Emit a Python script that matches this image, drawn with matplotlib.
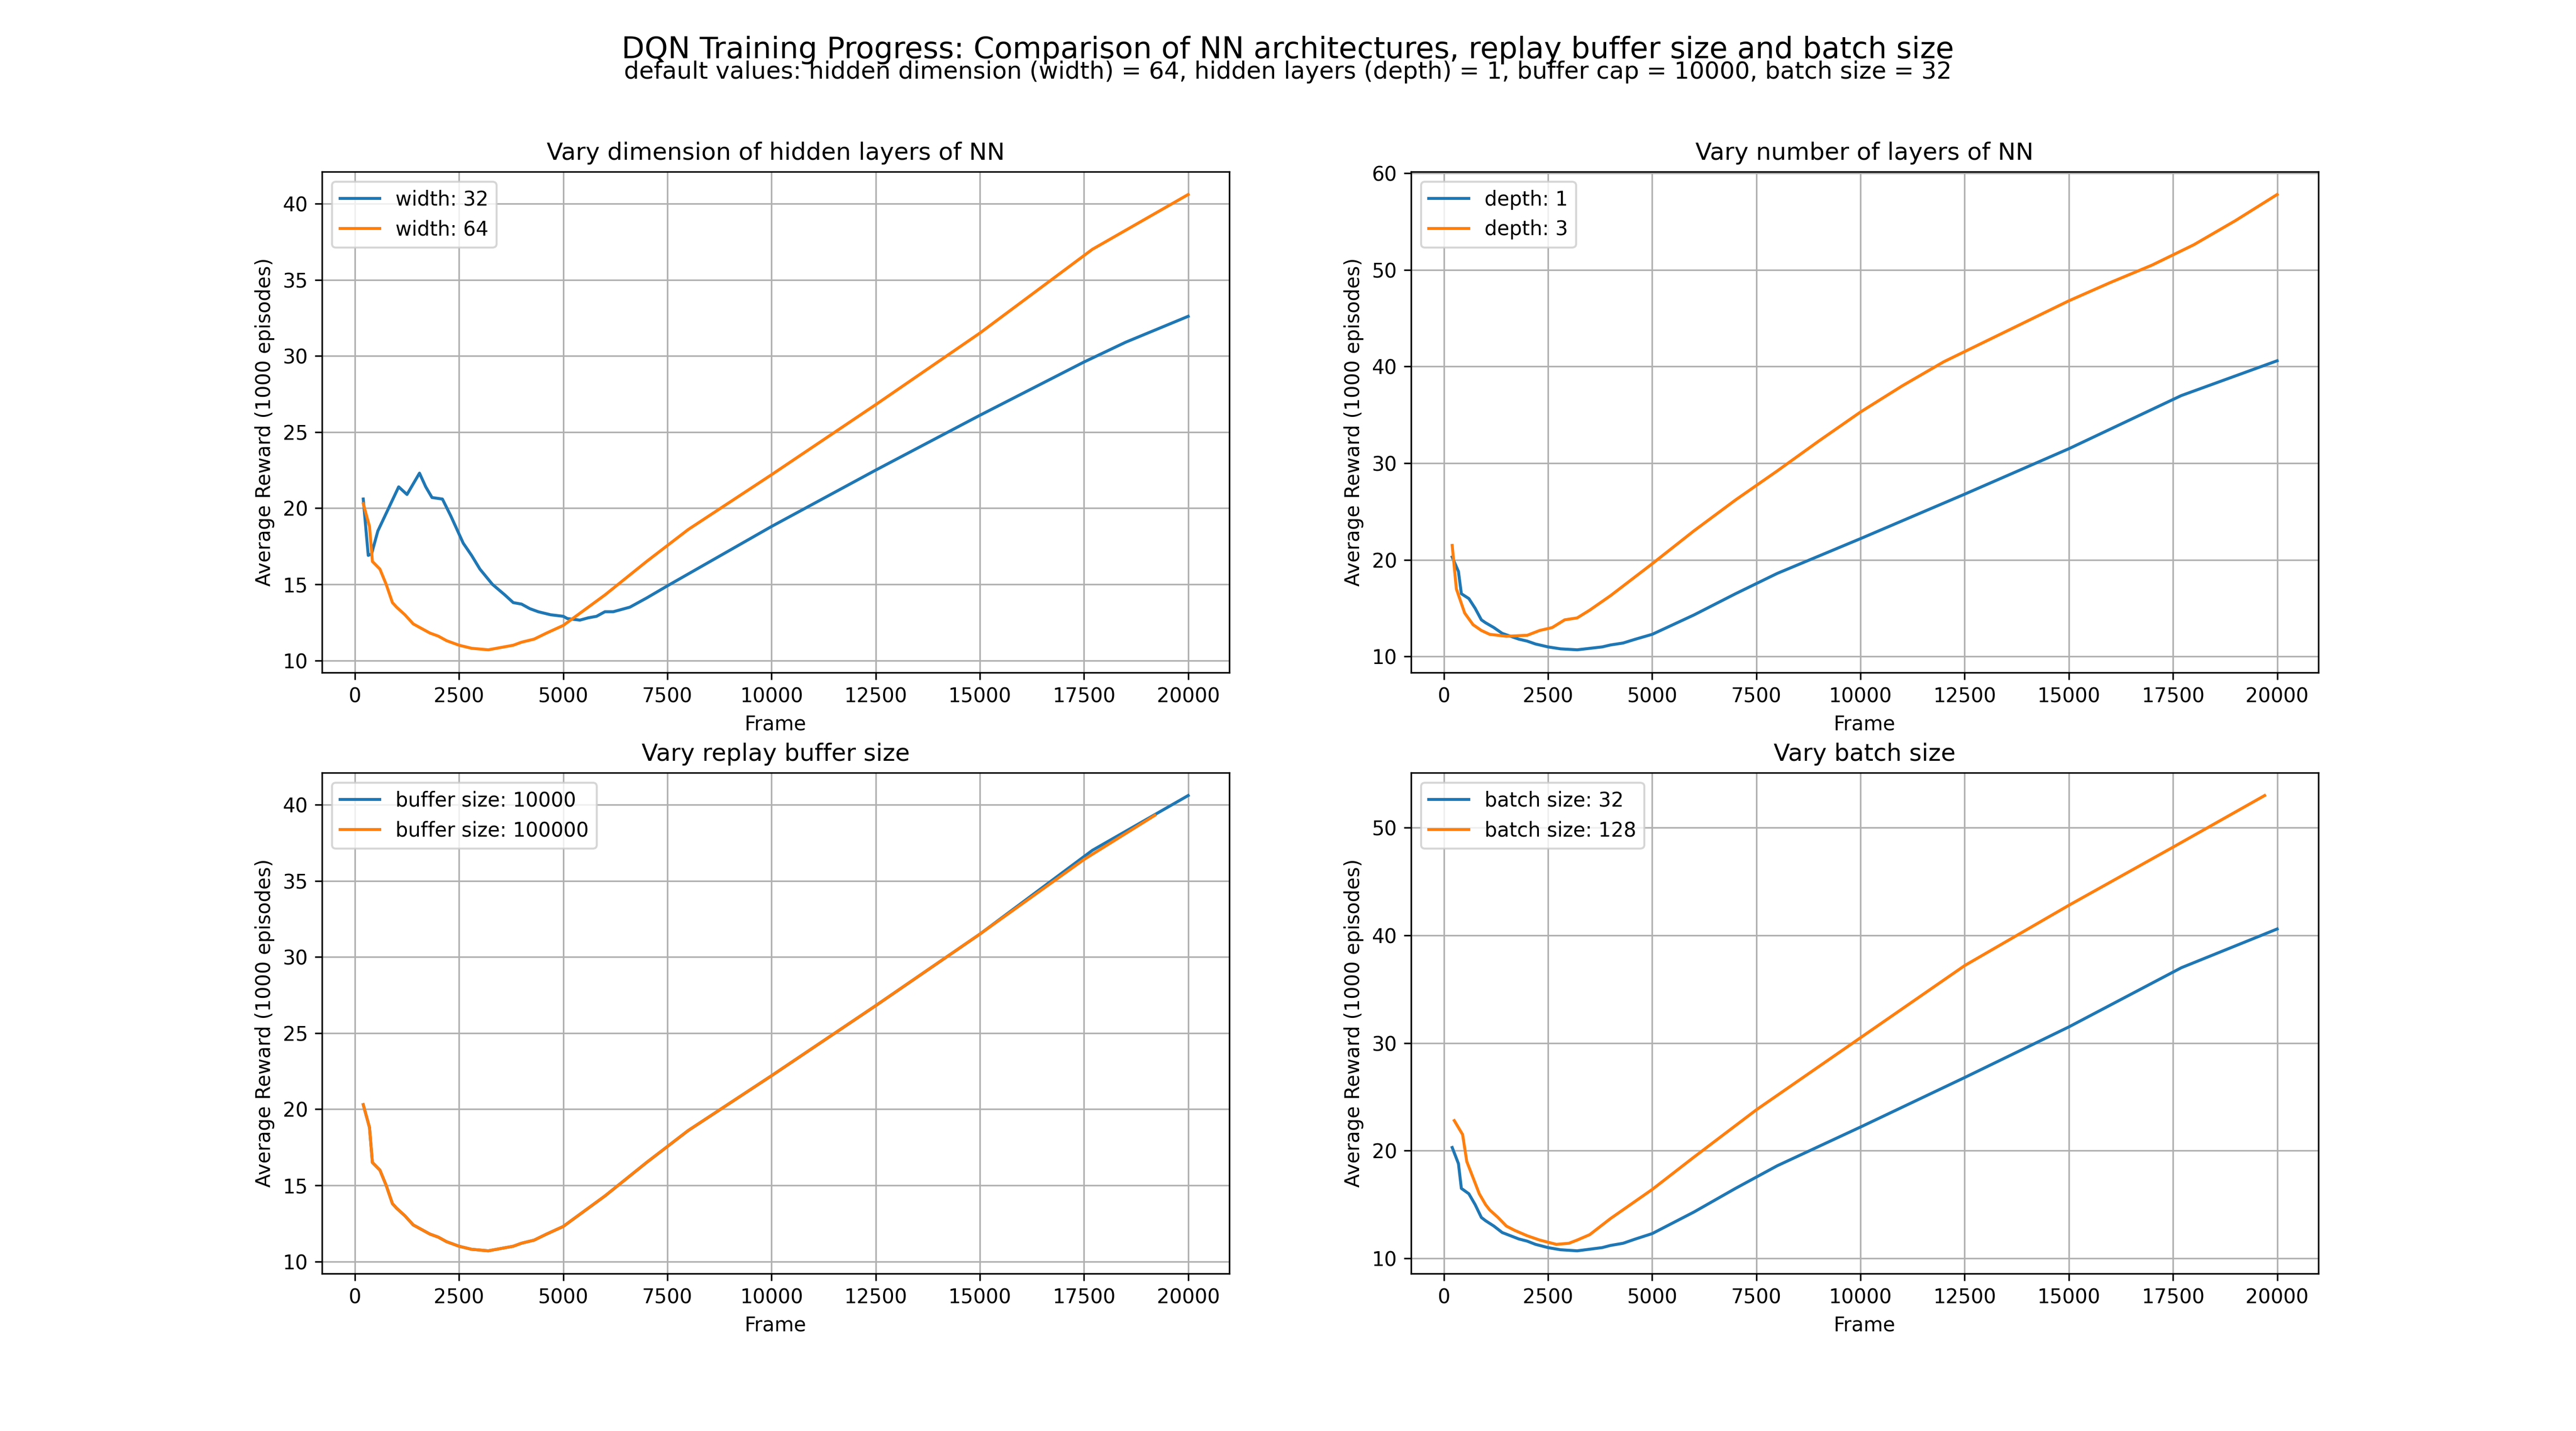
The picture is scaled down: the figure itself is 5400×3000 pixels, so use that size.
import matplotlib
matplotlib.use("Agg")
import matplotlib.pyplot as plt

# baseline run: width 64, depth 1, buffer 10000, batch 32
base_x = [200, 350, 420, 600, 750, 900, 1000, 1200, 1400, 1600, 1800, 2000, 2200, 2500, 2800,
          3200, 3500, 3800, 4000, 4300, 4600, 5000, 5500, 6000, 7000, 8000, 10000, 12500, 15000,
          17700, 20000]
base_y = [20.3, 18.8, 16.5, 16.0, 15.0, 13.8, 13.5, 13.0, 12.4, 12.1, 11.8, 11.6, 11.3, 11.0, 10.8,
          10.7, 10.85, 11.0, 11.2, 11.4, 11.8, 12.3, 13.3, 14.3, 16.5, 18.6, 22.2, 26.8, 31.5,
          37.0, 40.6]

width32_x = [200, 320, 400, 550, 1050, 1250, 1550, 1700, 1850, 2100, 2300, 2600, 2800, 3000, 3300,
             3600, 3800, 4000, 4200, 4400, 4700, 5000, 5100, 5400, 5600, 5800, 6000, 6200, 6600,
             7000, 7500, 10000, 12500, 15000, 17500, 18500, 20000]
width32_y = [20.6, 16.9, 17.0, 18.5, 21.4, 20.9, 22.3, 21.4, 20.7, 20.6, 19.5, 17.7, 16.9, 16.0, 15.0,
             14.3, 13.8, 13.7, 13.4, 13.2, 13.0, 12.9, 12.75, 12.65, 12.8, 12.9, 13.2, 13.2, 13.5,
             14.1, 14.9, 18.8, 22.5, 26.1, 29.6, 30.9, 32.6]

depth3_x = [200, 300, 500, 700, 900, 1100, 1500, 2000, 2300, 2600, 2900, 3200, 3500, 4000, 5000,
            6000, 7000, 8000, 9000, 10000, 11000, 12000, 13000, 14000, 15000, 16000, 17000, 18000,
            19000, 20000]
depth3_y = [21.5, 17.0, 14.5, 13.3, 12.7, 12.3, 12.1, 12.2, 12.7, 13.0, 13.8, 14.0, 14.8, 16.3, 19.6,
            23.0, 26.2, 29.2, 32.3, 35.3, 38.0, 40.5, 42.6, 44.7, 46.8, 48.7, 50.5, 52.6, 55.1, 57.8]

buf100k_x = base_x[:-2] + [17500, 19200]
buf100k_y = base_y[:-2] + [36.4, 39.3]

batch128_x = [250, 450, 550, 700, 850, 1000, 1100, 1300, 1500, 1700, 2000, 2300, 2700, 3000, 3200,
              3500, 4000, 5000, 6000, 7500, 10000, 12500, 15000, 17500, 19700]
batch128_y = [22.8, 21.5, 19.0, 17.5, 16.0, 15.0, 14.5, 13.8, 13.0, 12.6, 12.1, 11.7, 11.3, 11.4, 11.7,
              12.2, 13.7, 16.4, 19.4, 23.8, 30.5, 37.2, 42.8, 48.2, 53.0]

panels = [
    ("Vary dimension of hidden layers of NN",
     [("width: 32", width32_x, width32_y), ("width: 64", base_x, base_y)]),
    ("Vary number of layers of NN",
     [("depth: 1", base_x, base_y), ("depth: 3", depth3_x, depth3_y)]),
    ("Vary replay buffer size",
     [("buffer size: 10000", base_x, base_y), ("buffer size: 100000", buf100k_x, buf100k_y)]),
    ("Vary batch size",
     [("batch size: 32", base_x, base_y), ("batch size: 128", batch128_x, batch128_y)]),
]

fig, axes = plt.subplots(2, 2, figsize=(18, 10), dpi=300)
fig.suptitle("DQN Training Progress: Comparison of NN architectures, replay buffer size and batch size",
             fontsize=15, y=0.975)
fig.text(0.5, 0.945, "default values: hidden dimension (width) = 64, hidden layers (depth) = 1, "
         "buffer cap = 10000, batch size = 32", ha="center", fontsize=12)

for ax, (title, series) in zip(axes.flat, panels):
    for label, xs, ys in series:
        ax.plot(xs, ys, label=label)
    ax.set_title(title)
    ax.set_xlabel("Frame")
    ax.set_ylabel("Average Reward (1000 episodes)")
    ax.grid(True)
    ax.legend(loc="upper left")

fig.savefig("out.png")
